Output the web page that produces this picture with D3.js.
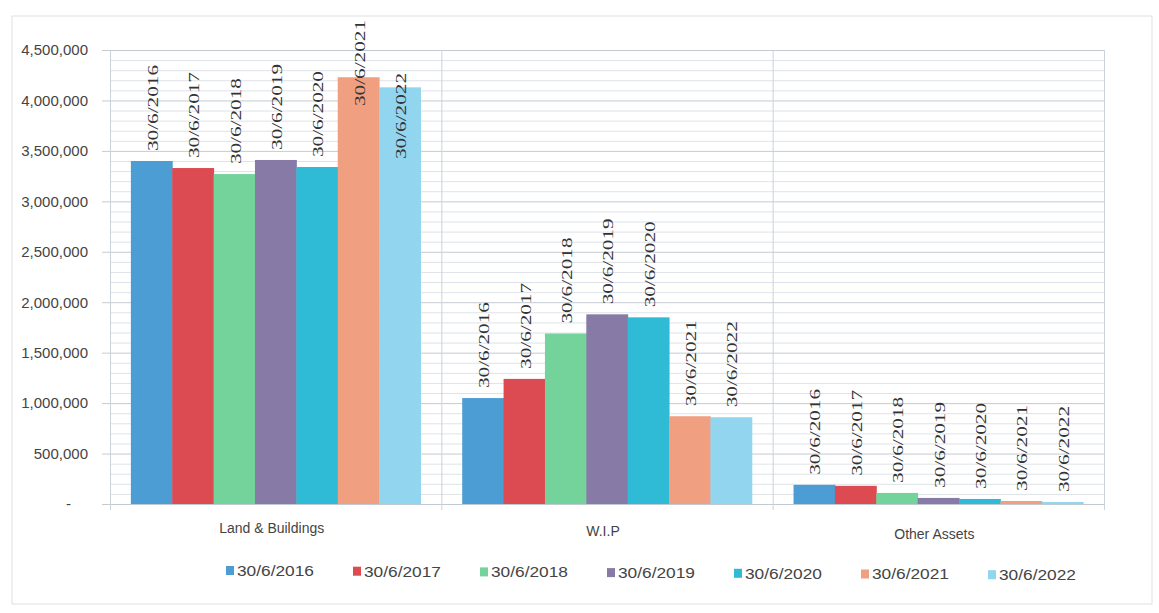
<!DOCTYPE html>
<html>
<head>
<meta charset="utf-8">
<script src="https://cdn.jsdelivr.net/npm/d3@7"></script>
<style>
  html, body { margin: 0; padding: 0; background: #ffffff; }
  svg { display: block; }
</style>
</head>
<body>
<div id="chart"></div>
<script>
// ---- data ----
const categories = ["Land & Buildings", "W.I.P", "Other Assets"];
const seriesNames = ["30/6/2016", "30/6/2017", "30/6/2018", "30/6/2019", "30/6/2020", "30/6/2021", "30/6/2022"];
const landBuildings = [3400000, 3330000, 3270000, 3410000, 3340000, 4230000, 4130000];
const wip = [1050000, 1240000, 1690000, 1880000, 1850000, 870000, 860000];
const otherAssets = [190000, 180000, 110000, 60000, 50000, 30000, 20000];
const yTicks = [0, 500000, 1000000, 1500000, 2000000, 2500000, 3000000, 3500000, 4000000, 4500000];
const seriesColors = ["#4c9dd3", "#dc4a52", "#74d39b", "#877aa6", "#2fbad6", "#f0a081", "#92d5ef"];

const valuesByCategory = [landBuildings, wip, otherAssets];

// ---- layout ----
const W = 1159, H = 613;
const plot = { left: 110, right: 1104, top: 50, bottom: 504 };

const svg = d3.select("#chart").append("svg")
  .attr("width", W).attr("height", H)
  .attr("viewBox", `0 0 ${W} ${H}`);

svg.append("rect").attr("width", W).attr("height", H).attr("fill", "#ffffff");

// outer chart border
svg.append("rect")
  .attr("x", 12).attr("y", 16).attr("width", 1140).attr("height", 588)
  .attr("fill", "none").attr("stroke", "#dcdfe2").attr("stroke-width", 1);

const y = d3.scaleLinear().domain([0, 4500000]).range([plot.bottom, plot.top]);
const x0 = d3.scaleBand().domain(categories).range([plot.left, plot.right]).padding(0);
const x1 = d3.scaleBand().domain(seriesNames)
  .range([x0.bandwidth() * 0.063, x0.bandwidth() * 0.937]).padding(0);

// minor gridlines (every 100,000)
const minor = d3.range(0, 4500001, 100000).filter(v => v % 500000 !== 0);
svg.append("g").selectAll("line").data(minor).join("line")
  .attr("x1", plot.left).attr("x2", plot.right)
  .attr("y1", d => y(d) + 0.5).attr("y2", d => y(d) + 0.5)
  .attr("stroke", "#dde3e8").attr("stroke-width", 1);

// major gridlines
svg.append("g").selectAll("line").data(yTicks).join("line")
  .attr("x1", plot.left - 8).attr("x2", plot.right)
  .attr("y1", d => y(d) + 0.5).attr("y2", d => y(d) + 0.5)
  .attr("stroke", "#c3cbd2").attr("stroke-width", 1);

// vertical category separators and plot border
const seps = [plot.left].concat(categories.map(c => x0(c) + x0.bandwidth()));
svg.append("g").selectAll("line").data(seps).join("line")
  .attr("x1", d => d + 0.5).attr("x2", d => d + 0.5)
  .attr("y1", plot.top).attr("y2", plot.bottom + 6)
  .attr("stroke", "#c8d3dc").attr("stroke-width", 1);

// y axis
const yAxis = d3.axisLeft(y).tickValues(yTicks).tickSize(0).tickPadding(0)
  .tickFormat(d => d === 0 ? "-" : d3.format(",")(d));
const gy = svg.append("g").attr("transform", `translate(${plot.left - 22},0)`).call(yAxis);
gy.select(".domain").remove();
gy.selectAll("text")
  .attr("font-family", "'Liberation Sans', Arial, sans-serif")
  .attr("font-size", 15).attr("fill", "#444444")
  .attr("dx", d => d === 0 ? -17 : 0);

// bars
const groups = svg.append("g").selectAll("g").data(categories).join("g")
  .attr("transform", c => `translate(${x0(c)},0)`);

groups.selectAll("rect")
  .data((c, i) => seriesNames.map((s, j) => ({ s, j, v: valuesByCategory[i][j] })))
  .join("rect")
  .attr("x", d => x1(d.s))
  .attr("y", d => y(d.v))
  .attr("width", x1.bandwidth() + 0.5)
  .attr("height", d => y(0) - y(d.v))
  .attr("fill", d => seriesColors[d.j]);

// data labels (series name, rotated)
const labelLen = 86, labelGap = 10, labelTopLimit = 20;
groups.each(function (c, i) {
  const g = d3.select(this);
  let prevClamped = false;
  seriesNames.forEach((s, j) => {
    const v = valuesByCategory[i][j];
    let start = y(v) - labelGap;          // bottom end of rotated text
    let clamped = false;
    if (start - labelLen < labelTopLimit) {
      clamped = true;
      start = labelTopLimit + labelLen + (prevClamped ? 53 : 0);
    }
    prevClamped = clamped;
    const cx = x1(s) + x1.bandwidth() / 2 + 1;
    g.append("text")
      .attr("transform", `translate(${cx},${start}) rotate(-90)`)
      .attr("dy", "0.35em")
      .attr("text-anchor", "start")
      .attr("font-family", "'Liberation Serif', 'DejaVu Serif', serif")
      .attr("font-size", 15)
      .attr("fill", "#333333")
      .attr("textLength", labelLen)
      .attr("lengthAdjust", "spacingAndGlyphs")
      .text(s);
  });
});

// category labels
svg.append("g").selectAll("text").data(categories).join("text")
  .attr("x", c => x0(c) + x0.bandwidth() / 2 - 4)
  .attr("y", (c, i) => 533 + i * 3)
  .attr("text-anchor", "middle")
  .attr("font-family", "'Liberation Sans', Arial, sans-serif")
  .attr("font-size", 14).attr("fill", "#444444")
  .text(c => c);

// legend
const legendX = 226, legendStep = 127, legendY = 571;
const leg = svg.append("g").selectAll("g").data(seriesNames).join("g")
  .attr("transform", (d, i) => `translate(${legendX + i * legendStep},${legendY + i * 0.7})`);
leg.append("rect")
  .attr("x", 0).attr("y", -5).attr("width", 8).attr("height", 9)
  .attr("fill", (d, i) => seriesColors[i]);
leg.append("text")
  .attr("x", 11).attr("y", 0).attr("dy", "0.35em")
  .attr("font-family", "'Liberation Sans', Arial, sans-serif")
  .attr("font-size", 14).attr("fill", "#444444")
  .attr("textLength", 77).attr("lengthAdjust", "spacingAndGlyphs")
  .text(d => d);
</script>
</body>
</html>
